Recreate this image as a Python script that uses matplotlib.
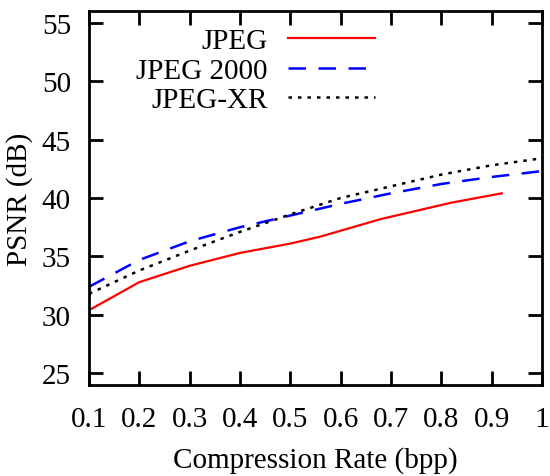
import matplotlib
matplotlib.use('Agg')
import matplotlib.pyplot as plt

# data
jpeg_x = [0.1, 0.2, 0.3, 0.4, 0.5, 0.56, 0.68, 0.82, 0.92]
jpeg_y = [30.4, 32.8, 34.2, 35.3, 36.1, 36.7, 38.2, 39.6, 40.4]

j2k_x = [0.1, 0.2, 0.3, 0.4, 0.5, 0.6, 0.7, 0.8, 0.9, 1.0]
j2k_y = [32.4, 34.7, 36.3, 37.5, 38.5, 39.5, 40.4, 41.2, 41.8, 42.3]

jxr_x = [0.1, 0.2, 0.3, 0.4, 0.5, 0.6, 0.7, 0.8, 0.9, 1.0]
jxr_y = [31.8, 33.8, 35.5, 37.1, 38.6, 40.0, 41.0, 42.0, 42.8, 43.4]

xticks = [0.1, 0.2, 0.3, 0.4, 0.5, 0.6, 0.7, 0.8, 0.9, 1.0]
xticklabels = ['0.1', '0.2', '0.3', '0.4', '0.5', '0.6', '0.7', '0.8', '0.9', '1']
yticks = [25, 30, 35, 40, 45, 50, 55]

plt.rcParams['font.family'] = ['Liberation Serif', 'DejaVu Serif']
fs = 21

fig = plt.figure(figsize=(5.5, 4.77), dpi=100)
ax = fig.add_axes([89/550, 1-386/477, 453/550, 374/477])

ax.plot(jpeg_x, jpeg_y, color='#ff0000', lw=1.6, label='JPEG')
ax.plot(j2k_x, j2k_y, color='#0000ff', lw=1.8, linestyle=(0, (7, 5)), label='JPEG 2000')
ax.plot(jxr_x, jxr_y, color='black', lw=1.8, linestyle=(0, (1.4, 2.4)), label='JPEG-XR')

ax.set_xlim(0.1, 1.0)
ax.set_ylim(24, 56)
ax.set_xticks(xticks)
ax.set_xticklabels(xticklabels)
ax.set_yticks(yticks)
ax.tick_params(direction='in', length=10, width=2, top=True, right=True,
               labelsize=fs)
ax.tick_params(axis='x', pad=15)
ax.tick_params(axis='y', pad=13)
for s in ax.spines.values():
    s.set_linewidth(2)

ax.set_xlabel('Compression Rate (bpp)', fontsize=fs, labelpad=10)
ax.set_ylabel('PSNR (dB)', fontsize=fs, labelpad=6)

leg = ax.legend(loc='upper right', bbox_to_anchor=(375/550, 1-29/477),
                bbox_transform=fig.transFigure, frameon=False, markerfirst=False,
                fontsize=fs, handlelength=3.0, handletextpad=0.68,
                labelspacing=0.1, borderpad=0, borderaxespad=0)

fig.savefig('out.png', dpi=100)
